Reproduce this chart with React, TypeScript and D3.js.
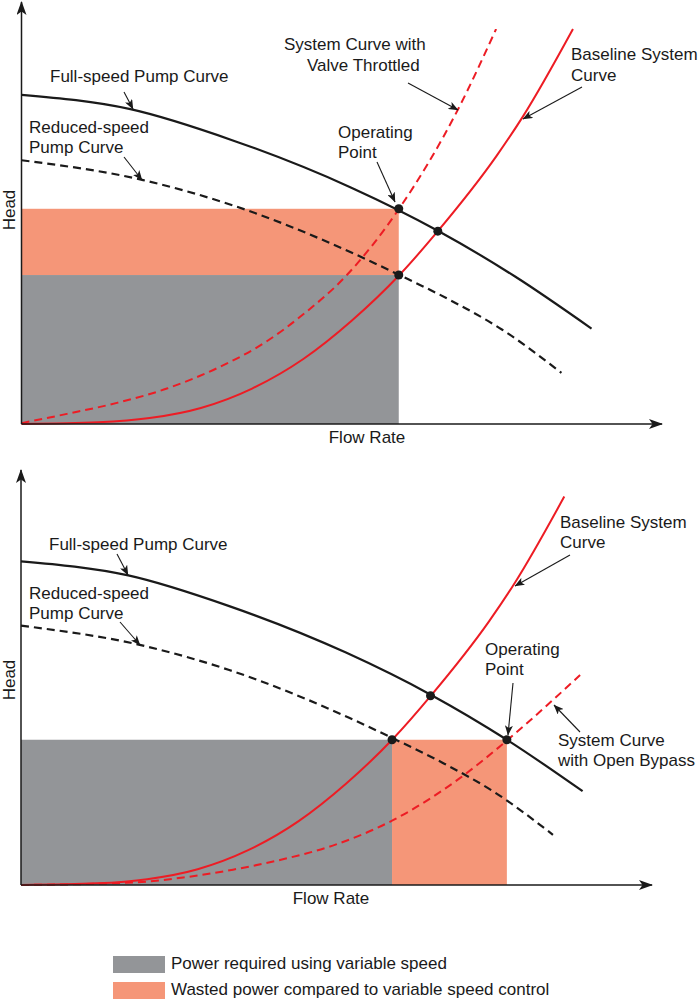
import * as d3 from "d3";
import React from "react";

type Pt = [number, number]; // [flow %, head %]

// curves, in % of each axis
const fullSpeedPump: Pt[] = [
  [0, 78], [17, 74.6], [33, 67.2], [51.5, 56], [65, 45.8], [77, 35], [89, 22.6],
];
const reducedSpeedPump: Pt[] = [
  [0, 62.5], [19, 57.8], [33, 51.8], [52, 40.3], [59, 35.3], [67, 29.3],
  [75, 22.4], [84.3, 12.1],
];
const baselineSystem: Pt[] = [
  [0, 0], [12, 0.4], [20, 1.4], [28, 3.8], [36, 8.4], [44, 15.4], [51.5, 24.4],
  [59, 35.3], [65, 45.7], [74.2, 63.6], [78.3, 72.9], [86.1, 93.6],
];
const throttledSystem: Pt[] = [
  [0, 0.2], [7.1, 2.4], [14.9, 5], [22.7, 8.4], [30.5, 13.2], [38.3, 19.6],
  [43.5, 25.4], [50.8, 35.3], [58.9, 50.9], [68.1, 74.4], [74.1, 93.6],
];
const bypassSystem: Pt[] = [
  [0, 0], [17.7, 0.6], [25.7, 1.8], [33.6, 3.7], [41.5, 6.2], [49.4, 9.5],
  [58.8, 15.5], [69.6, 25.8], [77, 34.8], [83.8, 43.9], [88.6, 50.6],
];

// operating points
const throttledPoints: Pt[] = [[58.9, 51], [65, 45.7], [58.9, 35.3]];
const bypassPoints: Pt[] = [[58.8, 35], [64.9, 45.6], [77, 35]];

// power areas: flow range, head range
const throttledAreas = [
  { kind: "wasted", flow: [0, 58.9], head: [35.3, 51] },
  { kind: "required", flow: [0, 58.9], head: [0, 35.3] },
];
const bypassAreas = [
  { kind: "required", flow: [0, 58.8], head: [0, 35] },
  { kind: "wasted", flow: [58.8, 77], head: [0, 35] },
];

const legendKinds = ["required", "wasted"];
const legendLabels = [
  "Power required using variable speed",
  "Wasted power compared to variable speed control",
];
const xLabel = "Flow Rate";
const yLabel = "Head";

const RED = "#ed1c24";
const INK = "#1a1a1a";
const fills: Record<string, string> = { required: "#939598", wasted: "#f59678" };
const FONT = "'Liberation Sans', Arial, Helvetica, sans-serif";

type Note = { lines: string[]; x: number; y: number; lh: number; arrow: number[] };

type PanelCfg = {
  xRange: [number, number];
  yRange: [number, number];
  system: Pt[];
  points: Pt[];
  areas: { kind: string; flow: number[]; head: number[] }[];
  xLabelPos: [number, number];
  yLabelY: number;
  notes: Note[];
};

const panels: PanelCfg[] = [
  {
    xRange: [21.5, 662],
    yRange: [424, 2],
    system: throttledSystem,
    points: throttledPoints,
    areas: throttledAreas,
    xLabelPos: [367, 443],
    yLabelY: 210,
    notes: [
      { lines: ["Full-speed Pump Curve"], x: 50, y: 82, lh: 20, arrow: [124, 92, 133, 109] },
      { lines: ["Reduced-speed", "Pump Curve"], x: 29, y: 133, lh: 20, arrow: [124, 157, 142, 180] },
      { lines: ["System Curve with"], x: 284, y: 50, lh: 21, arrow: [408, 83, 458, 110] },
      { lines: ["Valve Throttled"], x: 307, y: 71, lh: 21, arrow: [] },
      { lines: ["Baseline System", "Curve"], x: 571, y: 60, lh: 21, arrow: [582, 87, 523, 119] },
      { lines: ["Operating", "Point"], x: 338, y: 138, lh: 20, arrow: [377, 162, 395, 202] },
    ],
  },
  {
    xRange: [21, 652],
    yRange: [885, 470],
    system: bypassSystem,
    points: bypassPoints,
    areas: bypassAreas,
    xLabelPos: [331, 904],
    yLabelY: 680,
    notes: [
      { lines: ["Full-speed Pump Curve"], x: 49, y: 550, lh: 20, arrow: [117, 554, 128, 575] },
      { lines: ["Reduced-speed", "Pump Curve"], x: 29, y: 599, lh: 20, arrow: [120, 622, 140, 645] },
      { lines: ["Baseline System", "Curve"], x: 560, y: 528, lh: 20, arrow: [570, 555, 515, 586] },
      { lines: ["Operating", "Point"], x: 485, y: 655, lh: 20, arrow: [513, 683, 508, 735] },
      { lines: ["System Curve", "with Open Bypass"], x: 558, y: 746, lh: 20, arrow: [580, 732, 554, 705] },
    ],
  },
];

const Panel = ({ cfg }: { cfg: PanelCfg }) => {
  const x = d3.scaleLinear().domain([0, 100]).range(cfg.xRange);
  const y = d3.scaleLinear().domain([0, 100]).range(cfg.yRange);
  const line = d3
    .line<Pt>()
    .x((d) => x(d[0]))
    .y((d) => y(d[1]))
    .curve(d3.curveMonotoneX);

  return (
    <g>
      {cfg.areas.map((a, i) => (
        <rect
          key={i}
          x={x(a.flow[0])}
          y={y(a.head[1])}
          width={x(a.flow[1]) - x(a.flow[0])}
          height={y(a.head[0]) - y(a.head[1])}
          fill={fills[a.kind]}
        />
      ))}
      <path d={line(reducedSpeedPump) || ""} fill="none" stroke={INK} strokeWidth={2.2} strokeDasharray="8,5" />
      <path d={line(fullSpeedPump) || ""} fill="none" stroke={INK} strokeWidth={2.2} />
      <path d={line(cfg.system) || ""} fill="none" stroke={RED} strokeWidth={2} strokeDasharray="8,5" />
      <path d={line(baselineSystem) || ""} fill="none" stroke={RED} strokeWidth={2} />
      {cfg.points.map((p, i) => (
        <circle key={i} cx={x(p[0])} cy={y(p[1])} r={4.5} fill={INK} />
      ))}
      {/* axes */}
      <line x1={x(0)} y1={y(0)} x2={x(100)} y2={y(0)} stroke={INK} strokeWidth={1.5} markerEnd="url(#axisHead)" />
      <line x1={x(0)} y1={y(0)} x2={x(0)} y2={y(100)} stroke={INK} strokeWidth={1.5} markerEnd="url(#axisHead)" />
      <text x={cfg.xLabelPos[0]} y={cfg.xLabelPos[1]} textAnchor="middle" fontSize={17} fill={INK}>
        {xLabel}
      </text>
      <text
        transform={`translate(15, ${cfg.yLabelY}) rotate(-90)`}
        textAnchor="middle"
        fontSize={17}
        fill={INK}
      >
        {yLabel}
      </text>
      {cfg.notes.map((n, i) => (
        <g key={i}>
          {n.lines.map((t, j) => (
            <text key={j} x={n.x} y={n.y + j * n.lh} fontSize={17} fill={INK}>
              {t}
            </text>
          ))}
          {n.arrow.length === 4 && (
            <line
              x1={n.arrow[0]}
              y1={n.arrow[1]}
              x2={n.arrow[2]}
              y2={n.arrow[3]}
              stroke={INK}
              strokeWidth={1.1}
              markerEnd="url(#noteHead)"
            />
          )}
        </g>
      ))}
    </g>
  );
};

export default function App() {
  return (
    <svg
      width={700}
      height={1000}
      style={{ position: "absolute", left: 0, top: 0, background: "#fff" }}
      fontFamily={FONT}
    >
      <defs>
        <marker id="axisHead" viewBox="0 0 14 10" refX={13} refY={5} markerWidth={14} markerHeight={10} markerUnits="userSpaceOnUse" orient="auto">
          <path d="M0,0 L14,5 L0,10 L3.5,5 Z" fill={INK} />
        </marker>
        <marker id="noteHead" viewBox="0 0 10 8" refX={9.5} refY={4} markerWidth={10} markerHeight={8} markerUnits="userSpaceOnUse" orient="auto">
          <path d="M0,0 L10,4 L0,8 L2.5,4 Z" fill={INK} />
        </marker>
      </defs>
      <rect width={700} height={1000} fill="#fff" />
      {panels.map((p, i) => (
        <Panel key={i} cfg={p} />
      ))}
      {legendLabels.map((t, i) => (
        <g key={t} transform={`translate(113, ${956 + i * 26})`}>
          <rect width={52} height={17} fill={fills[legendKinds[i]]} />
          <text x={58} y={13} fontSize={17} fill={INK}>
            {t}
          </text>
        </g>
      ))}
    </svg>
  );
}
